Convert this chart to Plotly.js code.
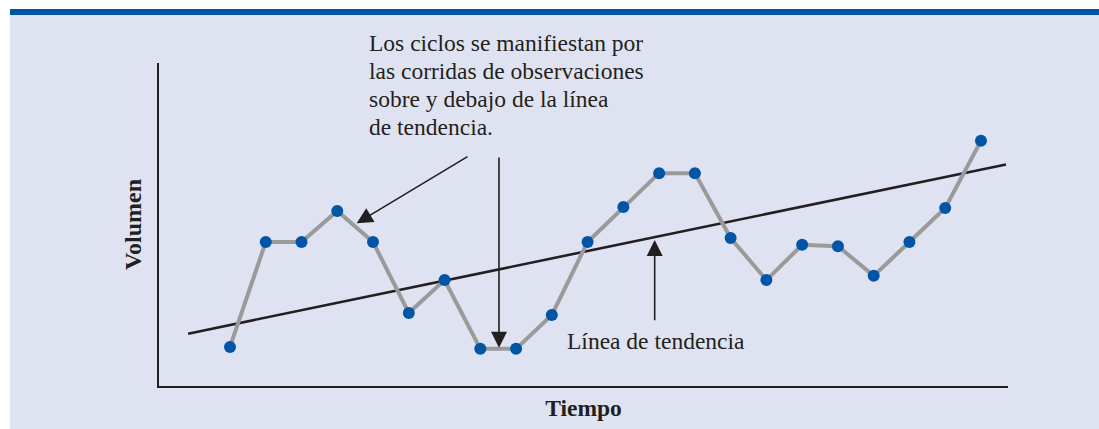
<!DOCTYPE html>
<html>
<head>
<meta charset="utf-8">
<script src="https://cdn.plot.ly/plotly-3.0.1.min.js"></script>
<style>html,body{margin:0;padding:0;background:#fff;}#chart{width:1099px;height:429px;}</style>
</head>
<body>
<div id="chart"></div>
<script>
// Time periods (index) and observed volume (arbitrary units)
const periods = [1,2,3,4,5,6,7,8,9,10,11,12,13,14,15,16,17,18,19,20,21,22];
const volume  = [12.1,44.6,44.6,54.2,44.6,22.6,32.8,11.5,11.5,22.0,44.6,55.4,65.9,65.9,45.8,32.8,43.7,43.3,34.1,44.6,55.1,75.9];
// Trend line end points
const trendX = [-0.17, 22.7];
const trendY = [16.2, 68.6];
// Text
const noteLines = ["Los ciclos se manifiestan por","las corridas de observaciones","sobre y debajo de la línea","de tendencia."];
const trendLabel = "Línea de tendencia";
const xTitle = "Tiempo";
const yTitle = "Volumen";

const ink = '#231f20';
const serif = '"Liberation Serif", "Times New Roman", serif';

const traces = [
  {x: trendX, y: trendY, mode: 'lines', line: {color: ink, width: 2.6}, hoverinfo: 'skip', showlegend: false},
  {x: periods, y: volume, mode: 'lines+markers',
   line: {color: '#9a9a9a', width: 4},
   marker: {color: '#0055a6', size: 12},
   showlegend: false}
];

const noteY = [1.063, 0.975, 0.888, 0.801];
const annotations = noteLines.map((t, i) => ({
  text: t, xref: 'paper', yref: 'paper', x: 0.245, y: noteY[i],
  xanchor: 'left', yanchor: 'middle', showarrow: false,
  font: {family: serif, size: 23.5, color: ink}
}));
annotations.push({
  text: trendLabel, xref: 'paper', yref: 'paper', x: 0.4782, y: 0.1393,
  xanchor: 'left', yanchor: 'middle', showarrow: false,
  font: {family: serif, size: 23.5, color: ink}
});
// arrows
const arrowStyle = {showarrow: true, arrowhead: 2, arrowsize: 2, arrowwidth: 1.6, arrowcolor: ink, standoff: 0, text: '', axref: 'pixel', ayref: 'pixel'};
annotations.push(Object.assign({x: 4.543, y: 50.37, ax: 112.3, ay: -67.6}, arrowStyle));
annotations.push(Object.assign({x: 8.522, y: 11.86, ax: 0, ay: -191.7}, arrowStyle));
annotations.push(Object.assign({x: 12.876, y: 45.2, ax: 0, ay: 81.7}, arrowStyle));

const layout = {
  width: 1099, height: 429,
  margin: {l: 159, r: 91, t: 63, b: 43, pad: 0},
  paper_bgcolor: '#dfe3f1',
  plot_bgcolor: '#dfe3f1',
  showlegend: false,
  xaxis: {range: [-0.985, 22.756], showgrid: false, zeroline: false, showticklabels: false, ticks: '',
          showline: true, linecolor: ink, linewidth: 2.2,
          title: {text: xTitle, font: {family: serif, size: 23.5, color: ink, weight: 'bold'}, standoff: 12}},
  yaxis: {range: [0, 100], showgrid: false, zeroline: false, showticklabels: false, ticks: '',
          showline: true, linecolor: ink, linewidth: 2.2,
          title: {text: yTitle, font: {family: serif, size: 24, color: ink, weight: 'bold'}, standoff: 9}},
  shapes: [
    {type: 'rect', xref: 'paper', yref: 'paper', x0: -0.3, x1: 1.2, y0: 1.1486, y1: 1.3, fillcolor: '#ffffff', line: {width: 0}, layer: 'below'},
    {type: 'rect', xref: 'paper', yref: 'paper', x0: -0.3, x1: -0.1755, y0: -0.3, y1: 1.3, fillcolor: '#ffffff', line: {width: 0}, layer: 'below'},
    {type: 'rect', xref: 'paper', yref: 'paper', x0: -0.1755, x1: 1.2, y0: 1.1486, y1: 1.167, fillcolor: '#0054a5', line: {width: 0}, layer: 'below'}
  ],
  annotations: annotations
};

Plotly.newPlot('chart', traces, layout, {displayModeBar: false, staticPlot: true});
</script>
</body>
</html>
